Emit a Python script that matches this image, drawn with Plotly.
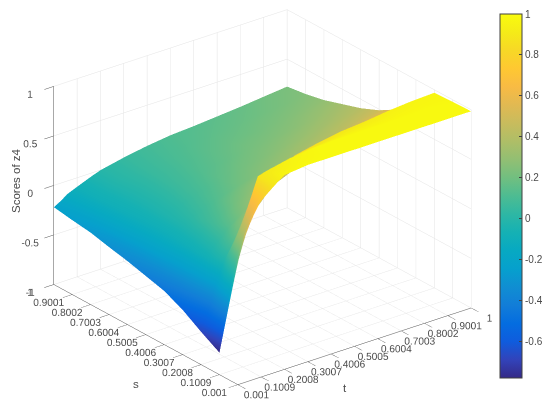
import plotly.graph_objects as go

t_vals = [0.001, 0.03, 0.06, 0.1009, 0.165, 0.2008, 0.3007, 0.4006, 0.5005, 0.6004, 0.7003, 0.8002, 0.9001, 1]
s_vals = [0.001, 0.1009, 0.2008, 0.3007, 0.4006, 0.5005, 0.6004, 0.7003, 0.8002, 0.9001, 1]
tick_vals = [0.001, 0.1009, 0.2008, 0.3007, 0.4006, 0.5005, 0.6004, 0.7003, 0.8002, 0.9001, 1]
tick_labels = ["0.001", "0.1009", "0.2008", "0.3007", "0.4006", "0.5005", "0.6004", "0.7003", "0.8002", "0.9001", "1"]
z_ticks = [-1, -0.5, 0, 0.5, 1]
cbar_ticks = [-0.6, -0.4, -0.2, 0, 0.2, 0.4, 0.6, 0.8, 1]

# heights; one row per s, one column per t
z_s0 = [0.25, 0.50, 0.64, 0.78, 0.90, 0.96, 0.985, 0.985, 0.985, 0.985, 0.985, 0.985, 0.985, 0.985]
z_s1 = [-0.78, -0.37, 0.00, 0.40, 0.875, 0.90, 0.95, 0.98, 0.985, 0.985, 0.985, 0.985, 0.985, 0.98]
z_s2 = [-0.67, -0.50, -0.27, -0.02, 0.20, 0.30, 0.55, 0.80, 0.85, 0.89, 0.91, 0.94, 0.96, 0.97]
z_s3 = [-0.55, -0.42, -0.25, -0.08, 0.06, 0.14, 0.30, 0.42, 0.52, 0.59, 0.64, 0.68, 0.72, 0.75]
z_s4 = [-0.46, -0.37, -0.24, -0.11, 0.01, 0.08, 0.20, 0.30, 0.38, 0.44, 0.49, 0.53, 0.57, 0.60]
z_s5 = [-0.41, -0.33, -0.22, -0.12, -0.02, 0.03, 0.13, 0.20, 0.26, 0.31, 0.36, 0.40, 0.45, 0.49]
z_s6 = [-0.36, -0.30, -0.21, -0.12, -0.03, 0.00, 0.09, 0.16, 0.21, 0.25, 0.29, 0.33, 0.37, 0.41]
z_s7 = [-0.32, -0.27, -0.19, -0.11, -0.04, -0.01, 0.07, 0.13, 0.17, 0.21, 0.24, 0.27, 0.31, 0.35]
z_s8 = [-0.275, -0.24, -0.17, -0.10, -0.04, -0.01, 0.06, 0.11, 0.15, 0.18, 0.20, 0.23, 0.26, 0.29]
z_s9 = [-0.25, -0.21, -0.15, -0.09, -0.03, 0.00, 0.055, 0.10, 0.13, 0.155, 0.175, 0.195, 0.22, 0.25]
z_s10 = [-0.22, -0.18, -0.13, -0.09, -0.03, 0.00, 0.05, 0.09, 0.12, 0.135, 0.155, 0.175, 0.20, 0.224]
z_rows = [z_s0, z_s1, z_s2, z_s3, z_s4, z_s5, z_s6, z_s7, z_s8, z_s9, z_s10]

parula = [
    (0.2081, 0.1663, 0.5292), (0.1959, 0.2645, 0.7279), (0.0591, 0.3598, 0.8683),
    (0.0165, 0.4266, 0.8786), (0.0723, 0.4887, 0.8467), (0.0641, 0.5570, 0.8240),
    (0.0239, 0.6287, 0.8038), (0.0267, 0.6642, 0.7607), (0.0843, 0.6928, 0.7062),
    (0.1801, 0.7177, 0.6424), (0.3022, 0.7376, 0.5712), (0.4420, 0.7481, 0.5033),
    (0.5709, 0.7485, 0.4494), (0.6834, 0.7435, 0.4044), (0.7858, 0.7356, 0.3633),
    (0.8824, 0.7274, 0.3217), (0.9739, 0.7314, 0.2666), (0.9955, 0.7861, 0.1967),
    (0.9697, 0.8481, 0.1475), (0.9598, 0.9218, 0.0948), (0.9763, 0.9831, 0.0538),
]
n = len(parula) - 1
colorscale = [[i / n, "rgb(%d,%d,%d)" % tuple(round(c * 255) for c in p)] for i, p in enumerate(parula)]

TXT = "#4a4a4a"
FONT = "Liberation Sans, Arial, sans-serif"
GRID = "#e3e3e3"
W, H = 542, 394   # figure size; the page adds an 8px body margin


def px(x):
    return (x - 8) / W


def py(y):
    return 1 - (y - 8) / H


fig = go.Figure(go.Surface(
    x=t_vals, y=s_vals, z=z_rows, cmin=-0.776, cmax=1, colorscale=colorscale,
    lighting=dict(ambient=1, diffuse=0, specular=0, roughness=1, fresnel=0),
    hoverinfo="skip",
    colorbar=dict(
        x=px(499.5), xanchor="left",
        y=py(14), yanchor="top",
        len=364, lenmode="pixels", thickness=22, thicknessmode="pixels",
        outlinecolor="#404040", outlinewidth=1,
        ticks="inside", ticklen=3, tickcolor="#404040", tickvals=cbar_ticks,
        ticktext=["-0.6", "-0.4", "-0.2", "0", "0.2", "0.4", "0.6", "0.8", "1"],
        tickfont=dict(family=FONT, size=10, color=TXT), xpad=0, ypad=0,
    ),
))

axis_common = dict(
    showbackground=False, gridcolor=GRID, gridwidth=1, showline=True, linecolor="#505050",
    linewidth=1, ticks="outside", tickcolor="#505050", zeroline=False,
    showspikes=False, tickangle=0, tickfont=dict(family=FONT, size=11, color=TXT), title=dict(text=""),
)

SCALE = 1.5
fig.update_layout(
    width=W, height=H, paper_bgcolor="white",
    margin=dict(l=0, r=0, t=0, b=0, autoexpand=False),
    scene=dict(
        domain=dict(x=[0, 509 / W], y=[0, 1]),
        aspectmode="manual", aspectratio=dict(x=1 * SCALE, y=1.015 * SCALE, z=0.74 * SCALE),
        camera=dict(
            projection=dict(type="orthographic"),
            eye=dict(x=-0.562 * 1.6, y=-0.723 * 1.6, z=0.40 * 1.6),
            up=dict(x=0, y=0, z=1), center=dict(x=0, y=0, z=-0.044),
        ),
        xaxis=dict(range=[0.001, 1], tickvals=tick_vals, ticktext=tick_labels, ticklen=12, **axis_common),
        yaxis=dict(range=[0.001, 1], tickvals=tick_vals, ticktext=tick_labels, ticklen=12, **axis_common),
        zaxis=dict(range=[-1, 1], tickvals=z_ticks, ticklen=5,
                   ticktext=["-1", "-0.5", "0", "0.5", "1"], **axis_common),
    ),
    annotations=[
        dict(text="Scores of z4", x=px(16), y=py(181), xref="paper", yref="paper", textangle=-90,
             xanchor="center", yanchor="middle", showarrow=False, font=dict(family=FONT, size=11.5, color=TXT)),
        dict(text="s", x=px(136), y=py(384), xref="paper", yref="paper", xanchor="center", yanchor="middle",
             showarrow=False, font=dict(family=FONT, size=11.5, color=TXT)),
        dict(text="t", x=px(345), y=py(388), xref="paper", yref="paper", xanchor="center", yanchor="middle",
             showarrow=False, font=dict(family=FONT, size=11.5, color=TXT)),
    ],
)
fig.write_html("out.html")
